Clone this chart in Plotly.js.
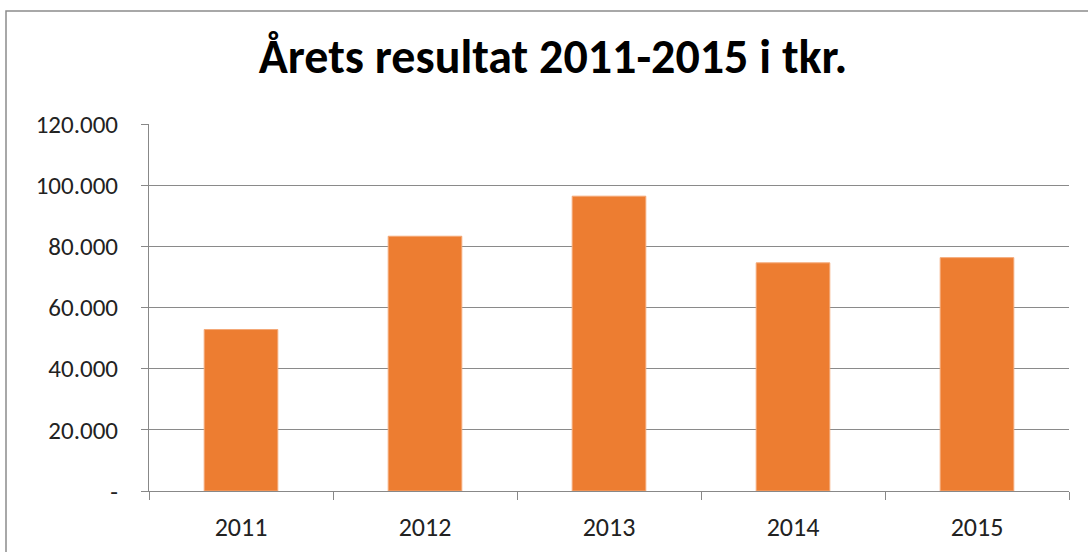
<!DOCTYPE html>
<html><head><meta charset="utf-8">
<script src="https://cdn.plot.ly/plotly-3.0.1.min.js"></script>
<style>html,body{margin:0;padding:0;background:#fff}#c{width:1088px;height:552px}</style>
</head><body><div id="c"></div>
<script>
const years = ['2011','2012','2013','2014','2015'];
const result = [52800, 83300, 96400, 74600, 76300];
const yTickVals = [0, 20000, 40000, 60000, 80000, 100000, 120000];
const yTickText = ['-', '20.000', '40.000', '60.000', '80.000', '100.000', '120.000'];
const titleText = 'Årets resultat 2011-2015 i tkr.';

const FONT = "Carlito, 'Liberation Sans Narrow', 'DejaVu Sans Condensed', sans-serif";

const trace = {
  type: 'bar', x: years, y: result,
  marker: {color: '#ED7D31', line: {color: '#F4A877', width: 1}},
  hoverinfo: 'skip'
};

const layout = {
  width: 1088, height: 552,
  margin: {l: 149, r: 19, t: 124, b: 61},
  paper_bgcolor: '#fff', plot_bgcolor: '#fff',
  showlegend: false,
  bargap: 0.6,
  title: {text: '<b>' + titleText + '</b>', x: 553/1088, xref: 'container', xanchor: 'center',
          y: 1 - 56/552, yanchor: 'middle',
          font: {family: FONT, size: 48, color: '#000'}},
  xaxis: {
    type: 'category', tickson: 'boundaries', ticks: 'outside', ticklen: 8,
    tickcolor: '#888', tickwidth: 1, showline: true, linecolor: '#888', linewidth: 1,
    showgrid: false, ticklabelstandoff: 13,
    tickfont: {family: FONT, size: 26, color: '#222'}
  },
  yaxis: {
    range: [0, 120000], tickvals: yTickVals, ticktext: yTickText,
    ticks: 'outside', ticklen: 7, tickcolor: '#888', tickwidth: 1,
    showline: true, linecolor: '#888', linewidth: 1,
    showgrid: true, gridcolor: '#8a8a8a', gridwidth: 1, zeroline: false,
    ticklabelstandoff: 18,
    tickfont: {family: FONT, size: 25, color: '#222'}
  },
  shapes: [{
    type: 'rect', xref: 'paper', yref: 'paper',
    x0: (6 - 149) / 920, x1: (1095 - 149) / 920,
    y0: (491 - 570) / 367, y1: (491 - 11) / 367,
    line: {color: '#8c8c8c', width: 1.5}, fillcolor: 'rgba(0,0,0,0)', layer: 'below'
  }]
};

Plotly.newPlot('c', [trace], layout, {staticPlot: true, displayModeBar: false});
</script></body></html>
